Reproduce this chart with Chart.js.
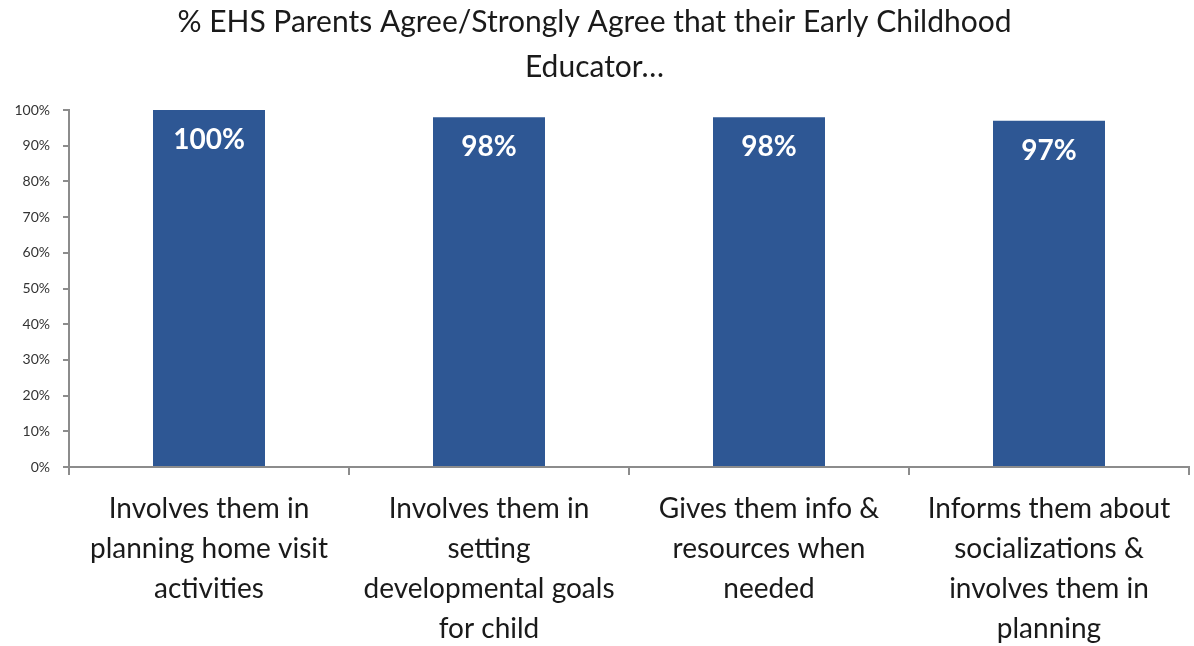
<!DOCTYPE html>
<html>
<head>
<meta charset="utf-8">
<script src="https://cdn.jsdelivr.net/npm/chart.js@4"></script>
<style>
  html, body { margin: 0; padding: 0; background: #fff; }
  #wrap { width: 1194px; height: 646px; }
</style>
</head>
<body>
<div id="wrap"><canvas id="chart"></canvas></div>
<script>
// survey items (multi-line labels) and share agreeing
const categories = [
    ['Involves them in', 'planning home visit', 'activities'],
    ['Involves them in', 'setting', 'developmental goals', 'for child'],
    ['Gives them info &', 'resources when', 'needed'],
    ['Informs them about', 'socializations &', 'involves them in', 'planning']
];
const agreePct = [100, 98, 98, 97];
const yTicks = [0, 10, 20, 30, 40, 50, 60, 70, 80, 90, 100];
const titleLines = ['% EHS Parents Agree/Strongly Agree that their Early Childhood', 'Educator…'];

const barColor = '#2E5794';
const axisColor = '#8c8c8c';
const fontFamily = 'Lato, "Open Sans", sans-serif';

// white value labels just inside the top of each bar
const barValueLabels = {
    id: 'barValueLabels',
    afterDatasetsDraw(chart) {
        const ctx = chart.ctx;
        const meta = chart.getDatasetMeta(0);
        ctx.save();
        ctx.fillStyle = '#fff';
        ctx.font = 'bold 28px ' + fontFamily;
        ctx.textAlign = 'center';
        ctx.textBaseline = 'middle';
        meta.data.forEach((bar, i) => {
            ctx.fillText(agreePct[i] + '%', bar.x, bar.y + 30);
        });
        ctx.restore();
    }
};

new Chart(document.getElementById('chart'), {
    type: 'bar',
    data: {
        labels: categories,
        datasets: [{
            data: agreePct,
            backgroundColor: barColor,
            borderWidth: 0,
            categoryPercentage: 0.4,
            barPercentage: 1.0
        }]
    },
    options: {
        responsive: true,
        maintainAspectRatio: false,
        animation: false,
        layout: { padding: { left: 0, right: 5, top: 0, bottom: 0 } },
        plugins: {
            legend: { display: false },
            tooltip: { enabled: false },
            title: {
                display: true,
                text: titleLines,
                color: '#1a1a1a',
                font: { family: fontFamily, size: 30, weight: 'normal', lineHeight: 1.5 },
                padding: { top: 0, bottom: 20 }
            }
        },
        scales: {
            y: {
                min: 0,
                max: 100,
                afterBuildTicks: (scale) => { scale.ticks = yTicks.map(v => ({ value: v })); },
                afterFit: (scale) => { scale.width = 69; },
                border: { display: true, color: axisColor, width: 2 },
                grid: { drawOnChartArea: false, drawTicks: true, tickLength: 6, color: axisColor, lineWidth: 2 },
                ticks: {
                    padding: 13,
                    color: '#333',
                    font: { family: fontFamily, size: 14 },
                    callback: (v) => v + '%'
                }
            },
            x: {
                afterFit: (scale) => { scale.height = 179; },
                border: { display: true, color: axisColor, width: 2 },
                grid: { offset: true, drawOnChartArea: false, drawTicks: true, tickLength: 8, color: axisColor, lineWidth: 2 },
                ticks: {
                    padding: 14,
                    maxRotation: 0,
                    autoSkip: false,
                    color: '#1a1a1a',
                    font: { family: fontFamily, size: 28, lineHeight: 1.43 }
                }
            }
        }
    },
    plugins: [barValueLabels]
});
</script>
</body>
</html>
